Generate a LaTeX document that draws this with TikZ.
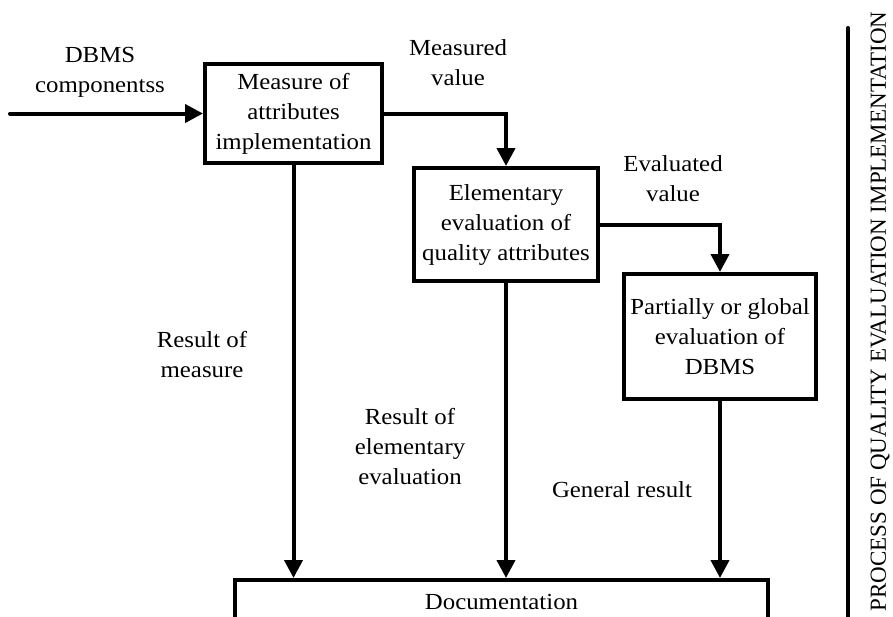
\documentclass[tikz,border=0pt]{standalone}
\usepackage{fontspec}
\setmainfont{Liberation Serif}[FakeStretch=1.08]
\newfontfamily\sidefont{Liberation Serif}
\usetikzlibrary{arrows.meta}
\begin{document}
\begin{tikzpicture}[x=1pt,y=-1pt,
  box/.style={draw, line width=4pt, align=center, inner sep=0pt, font=\fontsize{23}{30}\selectfont},
  lbl/.style={align=center, inner sep=0pt, font=\fontsize{23}{30}\selectfont},
  conn/.style={line width=4pt, -{Triangle[length=18pt,width=18pt]}},
]
\useasboundingbox (0,0) rectangle (893,616);
\clip (0,0) rectangle (893,616);
% boxes
\node[box, minimum width=177pt, minimum height=99pt] (m1) at (293.5,113.5) {Measure of\\attributes\\implementation};
\node[box, minimum width=184pt, minimum height=113pt] (m2) at (506,224.5) {Elementary\\evaluation of\\quality attributes};
\node[box, minimum width=192pt, minimum height=125pt] (m3) at (720,336.5) {Partially or global\\evaluation of\\DBMS};
\node[box, minimum width=533pt, minimum height=44pt] (doc) at (501.5,602) {Documentation};
% labels
\node[lbl] (l1) at (100,72) {DBMS\\componentss};
\node[lbl] (l2) at (458,63) {Measured\\value};
\node[lbl] (l3) at (673,179) {Evaluated\\value};
\node[lbl] (l4) at (202,354.5) {Result of\\measure};
\node[lbl] (l5) at (410,447) {Result of\\elementary\\evaluation};
\node[lbl] (l6) at (622,490) {General result};
% connectors
\coordinate (in) at (10,113.5);
\draw[conn, line cap=round] (in) -- (m1.west);
\draw[conn] (m1.east) -| (m2.north);
\draw[conn] (m2.east) -| (m3.north);
\draw[conn] (m1.south) -- (m1.south |- doc.north);
\draw[conn] (m2.south) -- (m2.south |- doc.north);
\draw[conn] (m3.south) -- (m3.south |- doc.north);
% side
\coordinate (vt) at (848,28);
\coordinate (vb) at (848,630);
\draw[line width=4pt, line cap=round] (vt) -- (vb);
\node[rotate=90, inner sep=0pt, font=\sidefont\fontsize{23}{27}\selectfont] (side) at (880,311.5) {PROCESS OF QUALITY EVALUATION IMPLEMENTATION};
\end{tikzpicture}
\end{document}
